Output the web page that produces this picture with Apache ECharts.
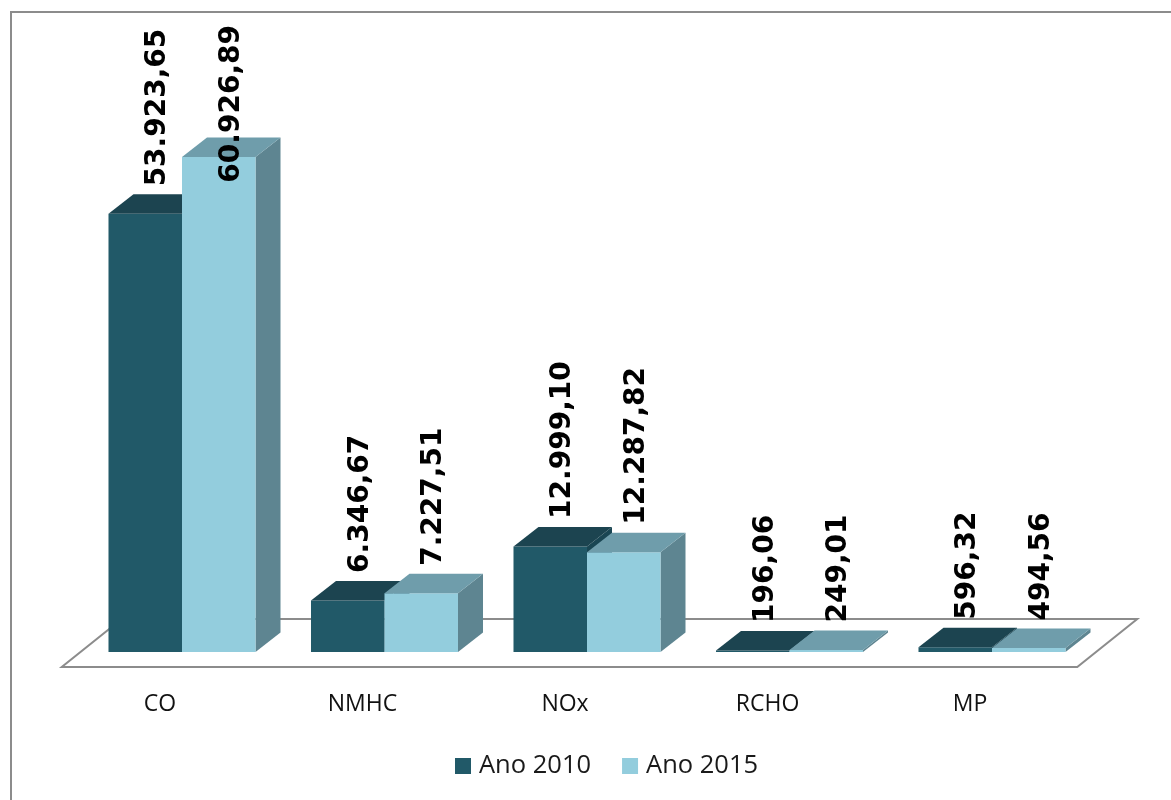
<!DOCTYPE html>
<html>
<head>
<meta charset="utf-8">
<title>Emissões por poluente</title>
<script src="https://cdn.jsdelivr.net/npm/echarts@6/dist/echarts.min.js"></script>
<style>
  html, body { margin: 0; padding: 0; background: #ffffff; }
  #chart { width: 1171px; height: 800px; }
</style>
</head>
<body>
<div id="chart"></div>
<script>
// Pollutant categories and yearly emission totals
const categories = ['CO', 'NMHC', 'NOx', 'RCHO', 'MP'];
const seriesNames = ['Ano 2010', 'Ano 2015'];
const values2010 = [53923.65, 6346.67, 12999.10, 196.06, 596.32];
const values2015 = [60926.89, 7227.51, 12287.82, 249.01, 494.56];

// Face colours for the pseudo-3D columns: front, top, side
const palette = [
  { front: '#215968', top: '#1c4450', side: '#1a4653' },
  { front: '#93cddd', top: '#6f9dab', side: '#5e8591' }
];

// Depth of the extruded columns (pixels)
const DX = 25, DY = -19.5;
const BAR_RATIO = 0.363; // share of a category band taken by one column
const LABEL_FONT = 'bold 28px "DejaVu Sans"';
const LABEL_GAP = 8;
const LABEL_TOP_LIMIT = 25;

// Brazilian number format: 53.923,65
function fmtBR(v) {
  const parts = v.toFixed(2).split('.');
  const intPart = parts[0].replace(/\B(?=(\d{3})+(?!\d))/g, '.');
  return intPart + ',' + parts[1];
}

const measureCtx = document.createElement('canvas').getContext('2d');
function textLength(str) {
  measureCtx.font = LABEL_FONT;
  return measureCtx.measureText(str).width;
}

function makeBarRenderer(seriesIdx) {
  const col = palette[seriesIdx];
  return function (params, api) {
    const cat = api.value(0);
    const val = api.value(1);
    const top = api.coord([cat, val]);
    const base = api.coord([cat, 0]);
    const band = api.size([1, 0])[0];
    const w = band * BAR_RATIO;
    const x0 = seriesIdx === 0 ? top[0] - w : top[0];
    const x1 = x0 + w;
    const yT = top[1];
    const yB = base[1];

    const front = {
      type: 'polygon',
      shape: { points: [[x0, yB], [x1, yB], [x1, yT], [x0, yT]] },
      style: { fill: col.front }
    };
    const side = {
      type: 'polygon',
      shape: { points: [[x1, yB], [x1 + DX, yB + DY], [x1 + DX, yT + DY], [x1, yT]] },
      style: { fill: col.side }
    };
    const cap = {
      type: 'polygon',
      shape: { points: [[x0, yT], [x1, yT], [x1 + DX, yT + DY], [x0 + DX, yT + DY]] },
      style: { fill: col.top }
    };

    // Value label, rotated to read bottom-to-top, kept inside the chart area
    const str = fmtBR(val);
    const len = textLength(str);
    let ly = yT + DY - LABEL_GAP;
    if (ly - len < LABEL_TOP_LIMIT) ly = LABEL_TOP_LIMIT + len;
    const label = {
      type: 'text',
      x: (x0 + x1) / 2 + DX / 2,
      y: ly,
      rotation: Math.PI / 2,
      z2: 100,
      style: {
        text: str,
        x: 0,
        y: 0,
        align: 'left',
        verticalAlign: 'middle',
        font: LABEL_FONT,
        fill: '#000000'
      }
    };
    return { type: 'group', children: [side, front, cap, label] };
  };
}

// Floor plane drawn under the columns
function renderFloor(params, api) {
  const band = api.size([1, 0])[0];
  const first = api.coord([0, 0]);
  const last = api.coord([categories.length - 1, 0]);
  const left = first[0] - band / 2;
  const right = last[0] + band / 2;
  const y0 = first[1];
  const pts = [
    [left - 19, y0 + 15],
    [right - 16, y0 + 15],
    [right + 44, y0 - 33],
    [left + 41, y0 - 33]
  ];
  return {
    type: 'polygon',
    z2: -10,
    shape: { points: pts },
    style: { fill: '#ffffff', stroke: '#8c8c8c', lineWidth: 2 }
  };
}

const chart = echarts.init(document.getElementById('chart'), null, { renderer: 'canvas' });

chart.setOption({
  animation: false,
  backgroundColor: '#ffffff',
  graphic: [{
    type: 'rect',
    shape: { x: 11, y: 12, width: 1300, height: 900 },
    style: { fill: 'none', stroke: '#8c8c8c', lineWidth: 2 },
    z: -1
  }],
  grid: { left: 80.75, right: 77.75, top: 83.25, bottom: 148 },
  legend: {
    data: seriesNames,
    left: 450,
    top: 748,
    icon: 'rect',
    itemWidth: 16,
    itemHeight: 16,
    itemGap: 31,
    textStyle: {
      fontFamily: 'Open Sans',
      fontSize: 25.5,
      color: '#1a1a1a',
      padding: [0, 0, 0, 3]
    }
  },
  xAxis: {
    type: 'category',
    data: categories,
    axisLine: { show: false },
    axisTick: { show: false },
    splitLine: { show: false },
    axisLabel: {
      margin: 41,
      fontFamily: 'Open Sans',
      fontSize: 23,
      color: '#111111',
      padding: [0, 44, 0, 0]
    }
  },
  yAxis: {
    type: 'value',
    min: 0,
    max: 70000,
    show: false,
    splitLine: { show: false }
  },
  series: [
    {
      name: 'floor',
      type: 'custom',
      renderItem: renderFloor,
      data: [[0, 0]],
      z: 1,
      silent: true
    },
    {
      name: seriesNames[0],
      type: 'custom',
      renderItem: makeBarRenderer(0),
      itemStyle: { color: palette[0].front },
      data: categories.map((c, i) => [i, values2010[i]]),
      z: 2
    },
    {
      name: seriesNames[1],
      type: 'custom',
      renderItem: makeBarRenderer(1),
      itemStyle: { color: palette[1].front },
      data: categories.map((c, i) => [i, values2015[i]]),
      z: 2
    }
  ]
});
</script>
</body>
</html>
